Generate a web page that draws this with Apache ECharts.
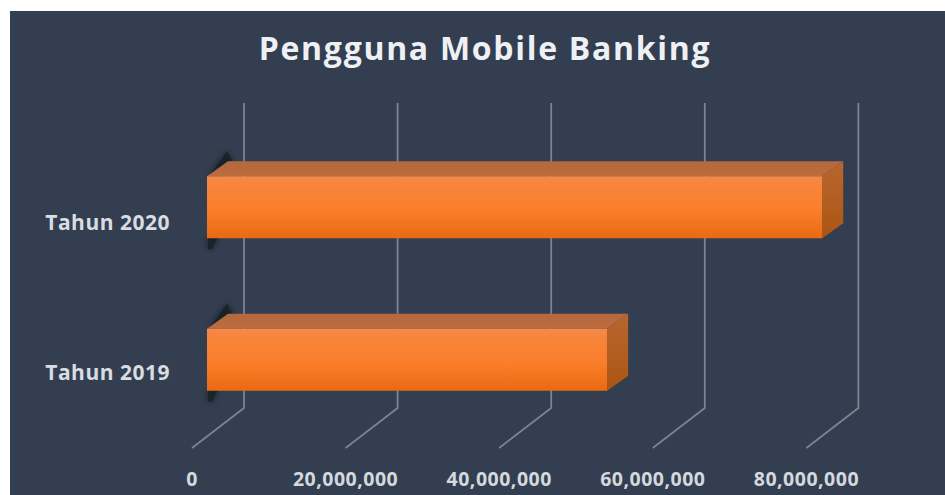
<!DOCTYPE html>
<html>
<head>
<meta charset="utf-8">
<title>Pengguna Mobile Banking</title>
<style>
  html, body { margin: 0; padding: 0; background: #fff; }
  #chart { width: 945px; height: 495px; }
  svg text { letter-spacing: 0.5px; }
  svg text[style*="32px"] { letter-spacing: 1.7px; }
</style>
<script src="https://cdn.jsdelivr.net/npm/echarts@6/dist/echarts.min.js"></script>
</head>
<body>
<div id="chart"></div>
<script>
const titleText = 'Pengguna Mobile Banking';
const categories = ['Tahun 2019', 'Tahun 2020'];
const users = [52100000, 80100000];
const axisTicks = [0, 20000000, 40000000, 60000000, 80000000];

// Depth of the pseudo-3D floor and the place of the bars inside it
const floorDx = 52, floorDy = -40;
const barFrontDx = 15, barFrontDy = -12;
const barDepthDx = 21, barDepthDy = -15;
const wallTop = 103;

const chart = echarts.init(document.getElementById('chart'), null, { renderer: 'svg' });

const vGrad = (stops) => ({
  type: 'linear', x: 0, y: 0, x2: 0, y2: 1,
  colorStops: stops.map((c) => ({ offset: c[0], color: c[1] }))
});

// Floor diagonal plus back-wall line for each tick
function renderWall(params, api) {
  const p = api.coord([api.value(0), 0]);
  const x = p[0];
  const yBase = params.coordSys.y + params.coordSys.height;
  return {
    type: 'polyline',
    shape: { points: [[x, yBase], [x + floorDx, yBase + floorDy], [x + floorDx, wallTop]] },
    style: { fill: 'none', stroke: '#7b8391', lineWidth: 1.8 }
  };
}

// Soft dark smudges at the hidden left end of each bar
function renderShade(params, api) {
  const c = api.coord([0, api.value(1)]);
  const h = api.size([0, 1])[1] * 0.405;
  const x = c[0] + barFrontDx;
  const top = c[1] + barFrontDy - h / 2;
  const bot = top + h;
  const shade = { fill: 'rgba(16,21,29,0.62)', shadowBlur: 7, shadowColor: 'rgba(16,21,29,0.9)' };
  return {
    type: 'group',
    children: [
      { type: 'polygon', shape: { points: [[x + 1, top + 1], [x + 20, top - 25], [x + 25, top - 16], [x + 20, top - 10]] }, style: shade },
      { type: 'polygon', shape: { points: [[x + 1, bot - 1], [x + 11, bot - 1], [x + 5, bot + 11], [x + 1, bot + 11]] }, style: shade }
    ]
  };
}

// Extruded bar: top face, end face, then the front face
function renderBar(params, api) {
  const end = api.coord([api.value(0), api.value(1)]);
  const start = api.coord([0, api.value(1)]);
  const h = api.size([0, 1])[1] * 0.405;
  const x0 = start[0] + barFrontDx;
  const x1 = end[0] + barFrontDx;
  const top = end[1] + barFrontDy - h / 2;
  const bot = top + h;
  const dx = barDepthDx, dy = barDepthDy;
  return {
    type: 'group',
    children: [
      {
        type: 'polygon',
        shape: { points: [[x0, top], [x0 + dx, top + dy], [x1 + dx, top + dy], [x1, top]] },
        style: { fill: vGrad([[0, '#b5683f'], [1, '#bd6c3c']]) }
      },
      {
        type: 'polygon',
        shape: { points: [[x1, top], [x1 + dx, top + dy], [x1 + dx, bot + dy], [x1, bot]] },
        style: { fill: vGrad([[0, '#b8662f'], [1, '#ad5512']]) }
      },
      {
        type: 'rect',
        shape: { x: x0, y: top, width: x1 - x0, height: h },
        style: {
          fill: vGrad([[0, '#f4894a'], [0.18, '#f78438'], [0.55, '#fb7e2a'], [0.85, '#f0701a'], [1, '#e96a12']])
        }
      }
    ]
  };
}

const labelFont = { color: '#d9dce2', fontFamily: 'Open Sans', fontWeight: 700, fontSize: 21 };

chart.setOption({
  animation: false,
  backgroundColor: '#ffffff',
  title: {
    text: titleText,
    left: 480, top: 26, textAlign: 'center',
    textStyle: { color: '#eef0f3', fontFamily: 'Open Sans', fontWeight: 700, fontSize: 32 }
  },
  graphic: [{
    type: 'rect', z: -10,
    shape: { x: 10, y: 11, width: 935, height: 484 },
    style: { fill: '#333f50' }
  }],
  grid: { left: 192, top: 143, width: 614.4, height: 305 },
  xAxis: {
    type: 'value', min: 0, max: 80000000, interval: 20000000,
    axisLine: { show: false }, axisTick: { show: false }, splitLine: { show: false },
    axisLabel: {
      margin: 20, color: '#d4d8df', fontFamily: 'Open Sans', fontWeight: 700, fontSize: 19.5,
      formatter: (v) => v.toLocaleString('en-US')
    }
  },
  yAxis: {
    type: 'category',
    data: categories,
    axisLine: { show: false }, axisTick: { show: false }, splitLine: { show: false },
    axisLabel: Object.assign({
      margin: 22,
      // The upper category label sits slightly below its band centre
      formatter: (v) => (v === categories[1] ? '{low|' + v + '}' : '{plain|' + v + '}'),
      rich: {
        plain: Object.assign({}, labelFont),
        low: Object.assign({ padding: [6, 0, 0, 0] }, labelFont)
      }
    }, labelFont)
  },
  series: [
    {
      type: 'custom', renderItem: renderWall, z: 1, silent: true, clip: false,
      encode: { x: 0 }, data: axisTicks.map((t) => [t])
    },
    {
      type: 'custom', renderItem: renderShade, z: 2, silent: true, clip: false,
      encode: { x: 0, y: 1 }, data: users.map((v, i) => [v, i])
    },
    {
      type: 'custom', renderItem: renderBar, z: 3, clip: false,
      encode: { x: 0, y: 1 }, data: users.map((v, i) => [v, i])
    }
  ]
});
</script>
</body>
</html>
